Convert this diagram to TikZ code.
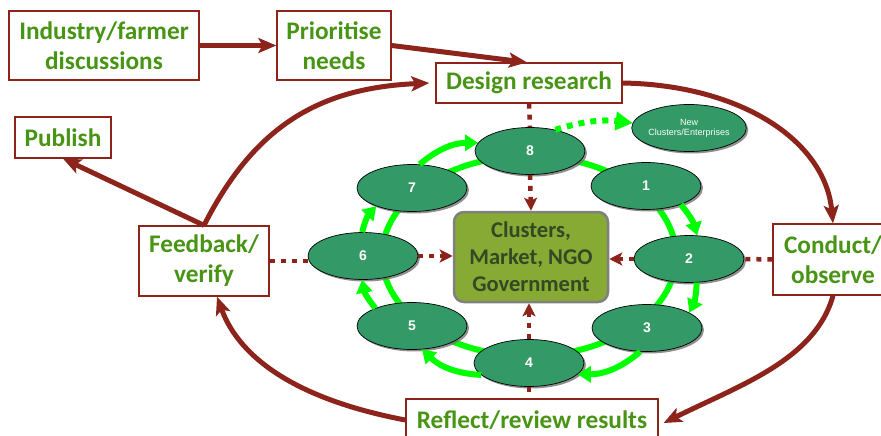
\documentclass[tikz,border=0pt]{standalone}
\usepackage{fontspec}
\setmainfont{Carlito}
\newfontfamily\arialf{Liberation Sans}
\usetikzlibrary{arrows.meta,shapes.geometric,shadows}
\definecolor{maroon}{RGB}{140,36,28}
\definecolor{txtgreen}{RGB}{72,148,20}
\definecolor{ellfill}{RGB}{51,153,102}
\definecolor{clfill}{RGB}{134,170,52}
\definecolor{clborder}{RGB}{128,128,128}
\definecolor{cltext}{RGB}{52,72,36}
\definecolor{brightgreen}{RGB}{0,255,0}
\tikzset{
  box/.style={draw=maroon, line width=1.3pt, fill=white, text=txtgreen,
    font=\bfseries\fontsize{25.3}{30}\selectfont, align=center, inner sep=0pt},
  ell/.style={ellipse, draw=black, line width=0.7pt, fill=ellfill,
    minimum width=110pt, minimum height=47pt, inner sep=0pt, text=white,
    font=\arialf\bfseries\fontsize{14}{16}\selectfont,
    drop shadow={shadow xshift=2pt, shadow yshift=-2pt, fill=black!55, opacity=0.8}},
  clbox/.style={draw=clborder, line width=2.5pt, fill=clfill, rounded corners=10pt,
    minimum width=154pt, minimum height=90pt, text=cltext, align=center,
    font=\bfseries\fontsize{22.5}{27}\selectfont},
  mline/.style={draw=maroon, line width=5pt, -{Stealth[length=18pt,width=15pt,inset=4pt]}},
  mdot/.style={draw=maroon, line width=4.5pt, dash pattern=on 5pt off 6pt},
  mdotarrow/.style={mdot, -{Stealth[length=13pt,width=13pt,inset=3pt]}},
  garrow/.style={draw=brightgreen, line width=6pt, -{Triangle[length=13pt,width=16pt]}},
  gdot/.style={draw=brightgreen, line width=6pt, dash pattern=on 6pt off 6pt,
    -{Triangle[length=17pt,width=18pt]}},
  ringline/.style={draw=brightgreen, line width=6pt}
}
\begin{document}
\begin{tikzpicture}[x=1pt,y=-1pt]
\useasboundingbox (0,0) rectangle (881,436);

% inner ring behind the ellipses
\coordinate (rc) at (529,256);
\draw[ringline] (rc) ellipse [x radius=147pt, y radius=100pt];

% boxes
\node[box, minimum width=190pt, minimum height=69pt] (ind) at (104,45.5) {Industry/farmer\\discussions};
\node[box, minimum width=114pt, minimum height=69pt] (pri) at (334,45.5) {Prioritise\\needs};
\node[box, minimum width=186pt, minimum height=40pt] (des) at (529,83) {Design research};
\node[box, minimum width=96pt, minimum height=41pt] (pub) at (63,137.5) {Publish};
\node[box, minimum width=130pt, minimum height=70pt] (fb) at (204,261) {Feedback/\\verify};
\node[box, minimum width=120pt, minimum height=71pt] (con) at (833,259.5) {Conduct/\\observe};
\node[box, minimum width=252pt, minimum height=42pt] (ref) at (532,420) {Reflect/review results};

% centre box
\node[clbox] (cl) at (531,257) {Clusters,\\Market, NGO\\Government};

% ellipses
\node[ell] (e8) at (530,151) {8};
\node[ell] (e1) at (646,186) {1};
\node[ell] (e2) at (689,259) {2};
\node[ell] (e3) at (647,328) {3};
\node[ell] (e4) at (529,363) {4};
\node[ell] (e5) at (412,326) {5};
\node[ell] (e6) at (363,256) {6};
\node[ell] (e7) at (412,188) {7};
\node[ell, font=\arialf\fontsize{9}{10}\selectfont, align=center] (new) at (689,128) {New\\Clusters/Enterprises};

% outer green arrows
\draw[garrow] (e7.72) to[bend left=20] (e8.171);
\draw[garrow] (e1.-28) to[bend left=12] (e2.71);
\draw[garrow] (e2.-72) to[bend left=12] (e3.20);
\draw[garrow] (e3.-106) to[bend left=20] (e4.-13);
\draw[garrow] (e4.-166) to[bend left=20] (e5.-67);
\draw[garrow] (e5.154) to[bend left=15] (e6.-92);
\draw[garrow] (e6.92) to[bend left=15] (e7.-153);
\draw[gdot] (e8.40) to[bend left=12] (new.175);

% maroon dotted links
\draw[mdot] (des.south) -- (e8.north);
\draw[mdotarrow] (e8.south) -- (cl.north);
\draw[mdotarrow] (e2.west) -- (e2.west -| cl.east);
\draw[mdotarrow] (e6.east) -- (e6.east -| cl.west);
\draw[mdotarrow] (e4.north) -- (e4.north |- cl.south);
\draw[mdot] (fb.east) -- (fb.east -| e6.west);
\draw[mdot] (con.west) -- (e2.east);
\draw[mdot] (e4.south) -- (e4.south |- ref.north);

% maroon solid arrows
\draw[mline] (ind) -- (pri);
\draw[mline] (pri.east) -- ([xshift=-2pt]des.north);
\draw[mline] (fb.north) .. controls (255,125) and (320,88) .. ([xshift=-6pt]des.west);
\draw[mline] (fb.north) -- (pub.south);
\draw[mline] (des.east) .. controls (740,85) and (825,140) .. (con.north);
\draw[mline] (con.south) .. controls (815,360) and (740,385) .. ([xshift=5pt,yshift=-3pt]ref.east);
\draw[mline] (ref.west) .. controls (300,400) and (240,360) .. ([xshift=13pt]fb.south);
\end{tikzpicture}
\end{document}
